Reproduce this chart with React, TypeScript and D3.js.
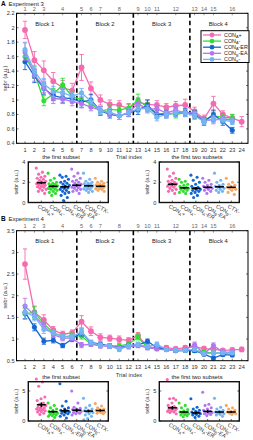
import React from "react";
import * as d3 from "d3";

const FONT = "'Liberation Sans', Arial, Helvetica, sans-serif";

// trial indices on the bottom axis, subset numbers on the top axis
const trials = [1, 2, 3, 4, 5, 6, 7, 8, 9, 10, 11, 12, 13, 14, 15, 16, 17, 18, 19, 20, 21, 22, 23, 24];
const topTickTrials = [1, 2, 3, 5, 7, 8, 9, 11, 13, 14, 15, 17, 19, 20, 21, 23];
const topTickLabels = ["1", "2", "3", "4", "5", "6", "7", "8", "9", "10", "11", "12", "13", "14", "15", "16"];
const blockBounds = [6.5, 12.5, 18.5];
const blockLabels = ["Block 1", "Block 2", "Block 3", "Block 4"];
const blockCenters = [3.1, 9.5, 15.5, 21.5];

const seriesNames = ["CON_A+", "CON_A-", "CON_A-ER", "CON_B-EA", "CON_B-"];
const groupNames = ["CON_A+", "CON_A-", "CON_A-ER", "CON_B-EA", "CON_B-", "CTX-"];
const colors = ["#f66bb0", "#2ee02e", "#1467d2", "#b277f0", "#74b4f4", "#f7a865"];

// Experiment 3 - mean sebr per trial
const e3ConAPlus = [1.97, 1.55, 1.41, 1.26, 1.17, 1.13, 1.45, 1.16, 1.0, 0.94, 0.93, 0.88, 0.97, 0.94, 0.93, 0.9, 0.92, 0.93, 0.84, 0.74, 0.95, 0.8, 0.75, 0.7];
const e3ConAMinus = [1.6, 1.38, 0.99, 1.08, 1.21, 1.05, 1.0, 0.95, 0.85, 0.87, 0.86, 0.89, 1.0, 0.9, 0.8, 0.82, 0.8, 0.82, 0.8, 0.72, 0.78, 0.76, 0.75];
const e3ConAER = [1.53, 1.33, 1.16, 1.06, 1.03, 1.02, 0.97, 1.0, 0.85, 0.8, 0.78, 0.82, 0.86, 0.93, 0.8, 0.8, 0.82, 0.83, 0.8, 0.7, 0.8, 0.7, 0.58];
const e3ConBEA = [1.67, 1.35, 1.18, 1.02, 1.01, 0.98, 0.95, 0.9, 0.86, 0.82, 0.78, 0.82, 0.95, 0.87, 0.88, 0.82, 0.86, 0.82, 0.82, 0.72, 0.72, 0.74, 0.72];
const e3ConBMinus = [1.7, 1.4, 1.22, 1.12, 1.1, 1.05, 1.1, 0.98, 0.85, 0.83, 0.78, 0.83, 0.88, 0.88, 0.76, 0.8, 0.82, 0.82, 0.78, 0.7, 0.74, 0.72, 0.7];

const e3ErrAPlus = [0.12, 0.12, 0.13, 0.12, 0.1, 0.1, 0.18, 0.09, 0.07, 0.06, 0.06, 0.06, 0.06, 0.06, 0.06, 0.05, 0.06, 0.08, 0.06, 0.05, 0.1, 0.05, 0.05, 0.07];
const e3ErrAMinus = [0.08, 0.08, 0.07, 0.08, 0.09, 0.07, 0.07, 0.06, 0.06, 0.06, 0.06, 0.06, 0.08, 0.06, 0.05, 0.05, 0.05, 0.05, 0.05, 0.04, 0.05, 0.05, 0.05];
const e3ErrAER = [0.11, 0.09, 0.08, 0.07, 0.07, 0.06, 0.07, 0.08, 0.06, 0.05, 0.05, 0.05, 0.06, 0.07, 0.05, 0.05, 0.05, 0.05, 0.05, 0.05, 0.06, 0.05, 0.04];
const e3ErrBEA = [0.12, 0.09, 0.08, 0.07, 0.06, 0.06, 0.06, 0.05, 0.05, 0.05, 0.05, 0.05, 0.06, 0.05, 0.05, 0.05, 0.05, 0.05, 0.05, 0.04, 0.05, 0.04, 0.04];
const e3ErrBMinus = [0.1, 0.08, 0.08, 0.07, 0.06, 0.06, 0.06, 0.05, 0.05, 0.05, 0.05, 0.05, 0.05, 0.05, 0.05, 0.04, 0.05, 0.05, 0.05, 0.04, 0.05, 0.04, 0.04];

// Experiment 4 - mean sebr per trial
const e4ConAPlus = [2.73, 1.62, 1.44, 1.21, 1.11, 1.14, 1.4, 1.18, 1.04, 1.02, 0.99, 0.97, 1.08, 0.82, 0.8, 0.8, 0.77, 0.8, 0.82, 0.78, 0.76, 0.74, 0.75, 0.76];
const e4ConAMinus = [1.58, 1.62, 1.35, 1.15, 1.05, 1.08, 1.07, 0.88, 0.86, 0.84, 0.84, 0.88, 1.04, 0.8, 0.78, 0.76, 0.73, 0.74, 0.74, 0.7, 0.68, 0.67, 0.68];
const e4ConAER = [1.62, 1.27, 0.95, 0.97, 0.85, 1.0, 1.15, 0.92, 0.88, 0.84, 0.8, 0.85, 0.86, 0.95, 0.8, 0.76, 0.73, 0.74, 0.73, 0.65, 0.56, 0.64, 0.63];
const e4ConBEA = [1.76, 1.55, 1.3, 1.1, 1.02, 1.02, 0.86, 0.88, 0.84, 0.83, 0.8, 0.82, 0.85, 0.8, 0.77, 0.75, 0.74, 0.75, 0.87, 0.66, 0.85, 0.7, 0.7];
const e4ConBMinus = [1.62, 1.52, 1.22, 1.15, 1.05, 1.05, 1.17, 0.92, 0.86, 0.84, 0.76, 0.84, 0.88, 0.82, 0.88, 0.76, 0.74, 0.74, 0.76, 0.66, 0.68, 0.68, 0.68];

const e4ErrAPlus = [0.35, 0.12, 0.12, 0.08, 0.07, 0.07, 0.14, 0.1, 0.08, 0.07, 0.08, 0.06, 0.07, 0.05, 0.05, 0.05, 0.05, 0.05, 0.05, 0.05, 0.05, 0.04, 0.04, 0.05];
const e4ErrAMinus = [0.12, 0.14, 0.1, 0.07, 0.06, 0.06, 0.07, 0.05, 0.05, 0.05, 0.05, 0.05, 0.06, 0.04, 0.04, 0.04, 0.04, 0.04, 0.04, 0.04, 0.04, 0.04, 0.04];
const e4ErrAER = [0.15, 0.08, 0.07, 0.06, 0.05, 0.06, 0.08, 0.05, 0.05, 0.05, 0.05, 0.05, 0.05, 0.05, 0.04, 0.04, 0.04, 0.04, 0.04, 0.04, 0.04, 0.04, 0.04];
const e4ErrBEA = [0.18, 0.1, 0.08, 0.06, 0.06, 0.06, 0.06, 0.05, 0.05, 0.05, 0.05, 0.05, 0.05, 0.05, 0.04, 0.04, 0.04, 0.04, 0.06, 0.04, 0.06, 0.04, 0.04];
const e4ErrBMinus = [0.16, 0.1, 0.09, 0.06, 0.06, 0.06, 0.07, 0.05, 0.05, 0.05, 0.05, 0.05, 0.05, 0.05, 0.05, 0.04, 0.04, 0.04, 0.04, 0.04, 0.04, 0.04, 0.04];

// per-subject sebr, one list per group (Experiment 3)
const e3FirstSubset = [
  [3.4, 3.0, 2.8, 2.6, 2.5, 2.4, 2.3, 2.2, 2.1, 2.05, 2.0, 1.95, 1.9, 1.85, 1.8, 1.75, 1.7, 1.6, 1.55, 1.5, 1.4, 1.3, 1.2, 1.1, 0.9],
  [2.9, 2.4, 2.2, 2.0, 1.9, 1.85, 1.8, 1.7, 1.65, 1.6, 1.55, 1.5, 1.45, 1.4, 1.35, 1.3, 1.2, 1.1, 1.0, 0.9, 0.7],
  [2.7, 2.6, 2.5, 2.3, 2.1, 2.0, 1.9, 1.8, 1.7, 1.6, 1.5, 1.45, 1.4, 1.3, 1.2, 1.1, 1.0, 0.9, 0.7, 0.5, 0.2],
  [3.3, 2.9, 2.6, 2.4, 2.2, 2.1, 2.0, 1.9, 1.8, 1.75, 1.7, 1.65, 1.6, 1.5, 1.45, 1.4, 1.3, 1.2, 1.1, 0.9],
  [2.9, 2.3, 2.1, 2.0, 1.9, 1.85, 1.8, 1.7, 1.65, 1.6, 1.55, 1.5, 1.4, 1.35, 1.3, 1.2, 1.1, 1.0],
  [2.4, 2.1, 2.0, 1.9, 1.8, 1.75, 1.7, 1.65, 1.6, 1.55, 1.5, 1.45, 1.4, 1.35, 1.3, 1.2, 1.1],
];
const e3FirstTwoSubsets = [
  [3.3, 2.9, 2.6, 2.4, 2.2, 2.1, 2.0, 1.9, 1.85, 1.8, 1.75, 1.7, 1.65, 1.6, 1.5, 1.4, 1.3, 1.2, 1.1, 0.9],
  [2.3, 2.1, 2.0, 1.8, 1.7, 1.6, 1.5, 1.45, 1.4, 1.35, 1.3, 1.2, 1.1, 1.0, 0.9],
  [2.7, 2.5, 2.2, 2.0, 1.8, 1.6, 1.5, 1.4, 1.3, 1.25, 1.2, 1.1, 1.0, 0.9, 0.7, 0.5],
  [2.4, 2.2, 2.0, 1.8, 1.7, 1.6, 1.5, 1.45, 1.4, 1.3, 1.2, 1.1, 0.9],
  [2.9, 2.2, 2.0, 1.8, 1.7, 1.6, 1.55, 1.5, 1.4, 1.3, 1.2, 1.1, 1.0],
  [2.4, 2.0, 1.8, 1.7, 1.6, 1.5, 1.45, 1.4, 1.3, 1.2, 1.0, 0.8],
];
const e3FirstSubsetMean = [1.95, 1.6, 1.55, 1.7, 1.65, 1.6];
const e3FirstSubsetSem = [0.12, 0.1, 0.16, 0.12, 0.1, 0.08];
const e3FirstTwoMean = [1.8, 1.45, 1.4, 1.5, 1.55, 1.5];
const e3FirstTwoSem = [0.12, 0.09, 0.14, 0.1, 0.1, 0.08];

// per-subject sebr, one list per group (Experiment 4)
const e4FirstSubset = [
  [7.0, 6.5, 5.8, 4.0, 3.7, 3.4, 3.0, 2.8, 2.6, 2.5, 2.3, 2.2, 2.1, 2.0, 1.9, 1.8, 1.7, 1.6, 1.5, 1.3, 1.1],
  [3.0, 2.6, 2.2, 2.0, 1.8, 1.6, 1.5, 1.4, 1.3, 1.2, 1.1, 1.0, 0.9, 0.8, 0.6],
  [6.2, 3.3, 2.5, 2.2, 2.0, 1.8, 1.7, 1.6, 1.5, 1.4, 1.3, 1.2, 1.0, 0.8, 0.5],
  [5.0, 3.0, 2.3, 2.1, 2.0, 1.9, 1.8, 1.7, 1.6, 1.5, 1.4, 1.3, 1.2, 1.0],
  [3.8, 2.6, 2.2, 2.0, 1.8, 1.7, 1.6, 1.5, 1.4, 1.2, 1.0, 0.8, 0.4, 0.2],
  [2.9, 2.5, 2.2, 2.0, 1.9, 1.8, 1.7, 1.6, 1.5, 1.4, 1.3, 1.2],
];
const e4FirstTwoSubsets = [
  [6.9, 3.8, 3.7, 3.5, 3.0, 2.6, 2.4, 2.2, 2.1, 2.0, 1.9, 1.8, 1.7, 1.6, 1.5, 1.4, 1.2],
  [3.0, 2.6, 2.2, 1.9, 1.7, 1.5, 1.4, 1.3, 1.2, 1.1, 1.0, 0.9, 0.7],
  [3.7, 2.3, 2.0, 1.8, 1.6, 1.5, 1.4, 1.3, 1.2, 1.1, 1.0, 0.8, 0.6],
  [4.8, 2.8, 2.6, 2.2, 2.0, 1.8, 1.6, 1.5, 1.4, 1.3, 1.2, 1.1, 0.9],
  [3.8, 2.3, 2.0, 1.8, 1.6, 1.5, 1.4, 1.3, 1.2, 1.1, 1.0, 0.8],
  [2.6, 2.2, 2.0, 1.8, 1.6, 1.5, 1.4, 1.3, 1.2, 1.1],
];
const e4FirstSubsetMean = [2.7, 1.55, 1.7, 1.8, 1.65, 1.75];
const e4FirstSubsetSem = [0.4, 0.2, 0.35, 0.28, 0.22, 0.18];
const e4FirstTwoMean = [2.2, 1.5, 1.35, 1.6, 1.5, 1.5];
const e4FirstTwoSem = [0.3, 0.18, 0.22, 0.26, 0.2, 0.16];

// "CON_A+" -> CON + subscript A + "+"
const GroupText: React.FC<{ label: string; size: number }> = ({ label, size }) => {
  const m = label.match(/^([A-Z]+)_([A-Z])(.*)$/);
  if (!m) return <>{label}</>;
  return (
    <>
      <tspan>{m[1]}</tspan>
      <tspan fontSize={size * 0.7} dy={size * 0.25}>{m[2]}</tspan>
      <tspan dy={-size * 0.25}>{m[3]}</tspan>
    </>
  );
};

const fmtTick = (v: number) => d3.format("~g")(v);

interface TrialProps {
  top: number;
  height: number;
  yDomain: [number, number];
  yTicks: number[];
  means: number[][];
  errs: number[][];
  legend?: boolean;
}

const TrialPanel: React.FC<TrialProps> = ({ top, height, yDomain, yTicks, means, errs, legend }) => {
  const left = 16.5;
  const right = 248;
  const bottom = top + height;
  const x = d3.scaleLinear().domain([1, 24]).range([25, 241.7]);
  const y = d3.scaleLinear().domain(yDomain).range([bottom, top]);
  const line = d3
    .line<number>()
    .x((_, i) => x(trials[i]))
    .y((d) => y(d));

  return (
    <g fontFamily={FONT}>
      {/* top axis: subset numbers */}
      {topTickTrials.map((t, i) => (
        <g key={"tt" + i}>
          <line x1={x(t)} x2={x(t)} y1={top} y2={top + 2} stroke="#555" strokeWidth={0.6} />
          <text x={x(t)} y={top - 2.3} fontSize={5.6} fill="#666" textAnchor="middle">
            {topTickLabels[i]}
          </text>
        </g>
      ))}
      {/* y ticks both sides */}
      {yTicks.map((v) => (
        <g key={"yt" + v}>
          <line x1={left} x2={left + 2} y1={y(v)} y2={y(v)} stroke="#222" strokeWidth={0.6} />
          <line x1={right - 2} x2={right} y1={y(v)} y2={y(v)} stroke="#222" strokeWidth={0.6} />
          <text x={left - 2} y={y(v) + 2} fontSize={5.6} fill="#333" textAnchor="end">
            {fmtTick(v)}
          </text>
        </g>
      ))}
      {/* bottom ticks */}
      {trials.map((t) => (
        <g key={"bt" + t}>
          <line x1={x(t)} x2={x(t)} y1={bottom} y2={bottom - 2} stroke="#222" strokeWidth={0.6} />
          <text x={x(t)} y={bottom + 8.5} fontSize={5.6} fill="#333" textAnchor="middle">
            {t}
          </text>
        </g>
      ))}
      <text x={129} y={bottom + 16} fontSize={5.8} fill="#333" textAnchor="middle">
        Trial index
      </text>
      <text
        transform={`translate(6.5,${(top + bottom) / 2}) rotate(-90)`}
        fontSize={5.6}
        fill="#333"
        textAnchor="middle"
      >
        sebr (a.u.)
      </text>

      {/* block separators */}
      {blockBounds.map((b) => (
        <line
          key={"bb" + b}
          x1={x(b)}
          x2={x(b)}
          y1={top}
          y2={bottom}
          stroke="#000"
          strokeWidth={1.6}
          strokeDasharray="4.5,3"
        />
      ))}
      {blockLabels.map((s, i) => (
        <text key={s} x={x(blockCenters[i])} y={top + 12.5} fontSize={5.8} fill="#222" textAnchor="middle">
          {s}
        </text>
      ))}

      {/* series with error bars */}
      {means.map((m, si) => (
        <g key={"s" + si} stroke={colors[si]} fill={colors[si]}>
          <path d={line(m) ?? ""} fill="none" strokeWidth={1.3} />
          {m.map((v, i) => {
            const e = errs[si][i];
            const cx = x(trials[i]);
            return (
              <g key={i} strokeWidth={0.9}>
                <line x1={cx} x2={cx} y1={y(v - e)} y2={y(v + e)} />
                <line x1={cx - 2.2} x2={cx + 2.2} y1={y(v - e)} y2={y(v - e)} />
                <line x1={cx - 2.2} x2={cx + 2.2} y1={y(v + e)} y2={y(v + e)} />
                <circle cx={cx} cy={y(v)} r={si === 0 ? 2.9 : 2.5} stroke="none" />
              </g>
            );
          })}
        </g>
      ))}

      <rect x={left} y={top} width={right - left} height={height} fill="none" stroke="#000" strokeWidth={1} />

      {legend && (
        <g>
          <rect x={201} y={30.7} width={48} height={31.8} fill="#fff" stroke="#000" strokeWidth={1} />
          {seriesNames.map((n, i) => {
            const ly = 35 + i * 6.1;
            return (
              <g key={n}>
                <line x1={203} x2={221} y1={ly} y2={ly} stroke={colors[i]} strokeWidth={1.3} />
                <circle cx={212} cy={ly} r={2.4} fill={colors[i]} />
                <text x={224} y={ly + 1.9} fontSize={5.4} fill="#222">
                  <GroupText label={n} size={5.4} />
                </text>
              </g>
            );
          })}
        </g>
      )}
    </g>
  );
};

interface InsetProps {
  left: number;
  top: number;
  height: number;
  yMax: number;
  yTicks: number[];
  points: number[][];
  means: number[];
  sems: number[];
  title: string;
  titleX: number;
}

const SubsetInset: React.FC<InsetProps> = ({ left, top, height, yMax, yTicks, points, means, sems, title, titleX }) => {
  const width = 80;
  const bottom = top + height;
  const x = d3.scaleLinear().domain([1, 6]).range([left + 13, left + 72]);
  const y = d3.scaleLinear().domain([0, yMax]).range([bottom, top]);
  return (
    <g fontFamily={FONT}>
      <text x={titleX} y={top - 3} fontSize={5.8} fill="#222" textAnchor="middle">
        {title}
      </text>
      {points.map((pts, gi) =>
        pts.map((v, k) => (
          <circle
            key={gi + "-" + k}
            cx={x(gi + 1) + (((k * 0.618034) % 1) - 0.5) * 10}
            cy={y(v)}
            r={1.55}
            fill={colors[gi]}
          />
        ))
      )}
      {means.map((m, gi) => (
        <g key={"m" + gi} stroke="#000" strokeWidth={1.5}>
          <line x1={x(gi + 1) - 4.5} x2={x(gi + 1) + 4.5} y1={y(m)} y2={y(m)} />
          <line x1={x(gi + 1)} x2={x(gi + 1)} y1={y(m - sems[gi])} y2={y(m + sems[gi])} />
        </g>
      ))}
      {yTicks.map((v) => (
        <g key={"t" + v}>
          <line x1={left} x2={left + 2} y1={y(v)} y2={y(v)} stroke="#000" strokeWidth={0.6} />
          <line x1={left + width - 2} x2={left + width} y1={y(v)} y2={y(v)} stroke="#000" strokeWidth={0.6} />
          <text x={left - 3} y={y(v) + 2} fontSize={5.6} fill="#333" textAnchor="end">
            {v}
          </text>
        </g>
      ))}
      {groupNames.map((n, gi) => (
        <g key={n}>
          <line x1={x(gi + 1)} x2={x(gi + 1)} y1={bottom} y2={bottom - 2} stroke="#000" strokeWidth={0.6} />
          <text
            transform={`translate(${x(gi + 1) - 4},${bottom + 5}) rotate(30)`}
            fontSize={5.6}
            fill="#333"
          >
            <GroupText label={n} size={5.6} />
          </text>
        </g>
      ))}
      <text
        transform={`translate(${left - 10.5},${(top + bottom) / 2}) rotate(-90)`}
        fontSize={5.4}
        fill="#333"
        textAnchor="middle"
      >
        sebr (a.u.)
      </text>
      <rect x={left} y={top} width={width} height={height} fill="none" stroke="#111" strokeWidth={1.4} />
    </g>
  );
};

const App: React.FC = () => {
  return (
    <svg width={253} height={440} style={{ position: "absolute", left: 0, top: 0, background: "#fff" }}>
      <rect width={253} height={440} fill="#fff" />
      <g fontFamily={FONT}>
        <text x={1} y={6} fontSize={6.5} fontWeight="bold">A</text>
        <text x={8.5} y={6} fontSize={6} fill="#222">Experiment 3</text>
        <text x={1} y={221} fontSize={6.5} fontWeight="bold">B</text>
        <text x={8.5} y={221} fontSize={6} fill="#222">Experiment 4</text>
      </g>

      <TrialPanel
        top={13.3}
        height={130}
        yDomain={[0.4, 2.2]}
        yTicks={[0.4, 0.6, 0.8, 1, 1.2, 1.4, 1.6, 1.8, 2, 2.2]}
        means={[e3ConAPlus, e3ConAMinus, e3ConAER, e3ConBEA, e3ConBMinus]}
        errs={[e3ErrAPlus, e3ErrAMinus, e3ErrAER, e3ErrBEA, e3ErrBMinus]}
        legend
      />
      <SubsetInset
        left={28.3}
        top={162}
        height={40.5}
        yMax={4}
        yTicks={[0, 2, 4]}
        points={e3FirstSubset}
        means={e3FirstSubsetMean}
        sems={e3FirstSubsetSem}
        title="the first subset"
        titleX={61}
      />
      <SubsetInset
        left={159.3}
        top={162}
        height={40.5}
        yMax={4}
        yTicks={[0, 2, 4]}
        points={e3FirstTwoSubsets}
        means={e3FirstTwoMean}
        sems={e3FirstTwoSem}
        title="the first two subsets"
        titleX={197}
      />

      <TrialPanel
        top={230.7}
        height={130}
        yDomain={[0.5, 3.5]}
        yTicks={[0.5, 1, 1.5, 2, 2.5, 3, 3.5]}
        means={[e4ConAPlus, e4ConAMinus, e4ConAER, e4ConBEA, e4ConBMinus]}
        errs={[e4ErrAPlus, e4ErrAMinus, e4ErrAER, e4ErrBEA, e4ErrBMinus]}
      />
      <SubsetInset
        left={28.3}
        top={381.7}
        height={39.3}
        yMax={6.55}
        yTicks={[0, 5]}
        points={e4FirstSubset}
        means={e4FirstSubsetMean}
        sems={e4FirstSubsetSem}
        title="the first subset"
        titleX={61}
      />
      <SubsetInset
        left={159.3}
        top={381.7}
        height={39.3}
        yMax={6.55}
        yTicks={[0, 5]}
        points={e4FirstTwoSubsets}
        means={e4FirstTwoMean}
        sems={e4FirstTwoSem}
        title="the first two subsets"
        titleX={197}
      />
    </svg>
  );
};

export default App;
